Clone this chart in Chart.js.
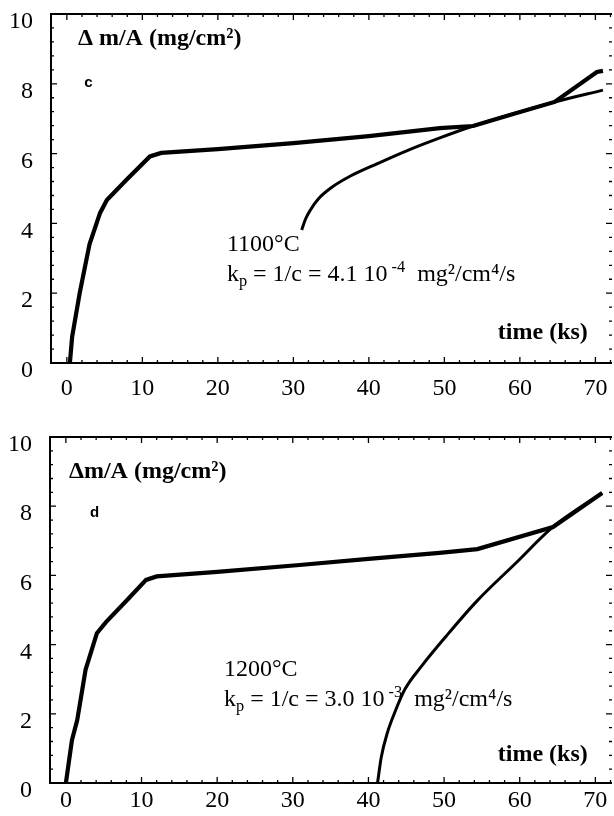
<!DOCTYPE html>
<html>
<head>
<meta charset="utf-8">
<script src="https://cdn.jsdelivr.net/npm/chart.js@4.4.1/dist/chart.umd.min.js"></script>
<style>
  html, body { margin: 0; padding: 0; background: #fff; overflow: hidden; }
  canvas { display: block; }
</style>
</head>
<body>
<canvas id="chartC" width="614" height="408"></canvas>
<canvas id="chartD" width="614" height="408"></canvas>
<script>
// tick labels
const xTicks = [0, 10, 20, 30, 40, 50, 60, 70];
const yTicks = [0, 2, 4, 6, 8, 10];

// panel c (1100°C): measured curve and parabolic fit
const timeC1 = [0.4, 0.7, 1.7, 3.0, 4.4, 5.3, 8.0, 11.0, 12.5, 20, 30, 40, 49.4, 53.8, 59, 64.6, 70.2, 71.0];
const massC1 = [0, 0.75, 2.0, 3.4, 4.3, 4.67, 5.27, 5.92, 6.02, 6.13, 6.3, 6.5, 6.73, 6.79, 7.13, 7.48, 8.34, 8.37];
const timeC2 = [31.1, 31.6, 32.3, 33.3, 35.0, 37.5, 41.2, 45, 49.4, 53.8, 59, 64.6, 71.0];
const massC2 = [3.81, 4.12, 4.40, 4.70, 5.02, 5.35, 5.72, 6.08, 6.45, 6.79, 7.13, 7.48, 7.82];

// panel d (1200°C)
const timeD1 = [0, 0.8, 1.5, 2.6, 4.1, 5.3, 8.1, 10.6, 12, 20, 30.9, 40, 49.4, 54.4, 64.4, 70.9];
const massD1 = [0, 1.24, 1.82, 3.27, 4.33, 4.65, 5.29, 5.87, 5.97, 6.1, 6.3, 6.48, 6.65, 6.76, 7.40, 8.38];
const timeD2 = [41.2, 41.7, 42.5, 43.5, 44.8, 47.0, 50.3, 54.3, 59.6, 64.4, 70.9];
const massD2 = [0, 0.75, 1.45, 2.05, 2.7, 3.37, 4.25, 5.25, 6.38, 7.40, 8.38];

const SERIF = "'Liberation Serif', 'Times New Roman', serif";
const SANS = "'Liberation Sans', Arial, sans-serif";

function toPoints(xs, ys) {
    return xs.map((v, i) => ({ x: v, y: ys[i] }));
}

// frame with inward ticks, like the original plot box
const framePlugin = {
    id: 'frame',
    afterDraw(chart) {
        const { ctx, chartArea: a, scales: { x, y } } = chart;
        ctx.save();
        ctx.strokeStyle = '#000';
        ctx.lineWidth = 2;
        ctx.beginPath();
        ctx.moveTo(a.right, a.top);
        ctx.lineTo(a.left, a.top);
        ctx.lineTo(a.left, a.bottom);
        ctx.lineTo(a.right, a.bottom);
        ctx.stroke();

        ctx.lineWidth = 1.3;
        ctx.beginPath();
        for (let v = 0; v <= 72; v += 2) {
            const px = x.getPixelForValue(v);
            const len = v % 10 === 0 ? 6 : 3;
            ctx.moveTo(px, a.bottom); ctx.lineTo(px, a.bottom - len);
            ctx.moveTo(px, a.top); ctx.lineTo(px, a.top + len);
        }
        for (let i = 0; i <= 25; i++) {
            const py = y.getPixelForValue(i * 0.4);
            const len = i % 5 === 0 ? 6 : 3;
            ctx.moveTo(a.left, py); ctx.lineTo(a.left + len, py);
            ctx.moveTo(a.right, py); ctx.lineTo(a.right - len, py);
        }
        ctx.stroke();
        ctx.restore();
    }
};

// text drawn inside the plot, placed in data coordinates
const notesPlugin = {
    id: 'notes',
    afterDraw(chart, args, opts) {
        const { ctx, scales: { x, y } } = chart;
        ctx.save();
        ctx.fillStyle = '#000';
        ctx.textBaseline = 'middle';
        ctx.textAlign = 'left';
        (opts.items || []).forEach(item => {
            const size = item.size || 24;
            const weight = item.bold ? 'bold ' : '';
            const family = item.family || SERIF;
            let total = 0;
            item.parts.forEach(p => {
                const s = p.sub || p.sup ? size * 0.68 : size;
                ctx.font = weight + s + 'px ' + family;
                total += ctx.measureText(p.t).width;
            });
            let px = x.getPixelForValue(item.x);
            const py = y.getPixelForValue(item.y);
            if (item.align === 'right') px -= total;
            item.parts.forEach(p => {
                const s = p.sub || p.sup ? size * 0.68 : size;
                ctx.font = weight + s + 'px ' + family;
                let dy = 0;
                if (p.sub) dy = size * 0.28;
                if (p.sup) dy = -size * 0.32;
                ctx.fillText(p.t, px, py + dy);
                px += ctx.measureText(p.t).width;
            });
        });
        ctx.restore();
    }
};

function makeChart(id, measured, fitted, box, notes) {
    return new Chart(document.getElementById(id), {
        type: 'scatter',
        data: {
            datasets: [
                {
                    data: measured,
                    showLine: true,
                    borderColor: '#000',
                    borderWidth: 4.2,
                    pointRadius: 0,
                    tension: 0
                },
                {
                    data: fitted,
                    showLine: true,
                    borderColor: '#000',
                    borderWidth: 3,
                    pointRadius: 0,
                    cubicInterpolationMode: 'monotone'
                }
            ]
        },
        options: {
            responsive: false,
            animation: false,
            layout: { padding: { top: box.top, right: 2, left: 0, bottom: 0 } },
            plugins: {
                legend: { display: false },
                tooltip: { enabled: false },
                notes: { items: notes }
            },
            scales: {
                x: {
                    type: 'linear',
                    min: -2.1,
                    max: 72.2,
                    afterBuildTicks: s => { s.ticks = xTicks.map(v => ({ value: v })); },
                    afterFit: s => {
                        s.height = box.xHeight;
                        s.paddingLeft = 0;
                        s.paddingRight = 0;
                    },
                    grid: { display: false, drawTicks: false },
                    border: { display: false },
                    ticks: {
                        color: '#000',
                        padding: box.xPad,
                        maxRotation: 0,
                        font: { family: SERIF, size: 24 }
                    }
                },
                y: {
                    type: 'linear',
                    min: 0,
                    max: 10,
                    afterBuildTicks: s => { s.ticks = yTicks.map(v => ({ value: v })); },
                    afterFit: s => {
                        s.width = box.left;
                        s.paddingTop = 0;
                        s.paddingBottom = 0;
                    },
                    grid: { display: false, drawTicks: false },
                    border: { display: false },
                    ticks: {
                        color: '#000',
                        padding: 18,
                        labelOffset: 8,
                        font: { family: SERIF, size: 24 }
                    }
                }
            }
        },
        plugins: [framePlugin, notesPlugin]
    });
}

makeChart('chartC', toPoints(timeC1, massC1), toPoints(timeC2, massC2),
    { top: 14, left: 51, xHeight: 45, xPad: 11 },
    [
        { x: 1.46, y: 9.28, bold: true, parts: [{ t: 'Δ m/A (mg/cm²)' }] },
        { x: 2.3, y: 8.02, bold: true, size: 15, family: SANS, parts: [{ t: 'c' }] },
        { x: 21.2, y: 3.38, parts: [{ t: '1100°C' }] },
        { x: 21.2, y: 2.52, parts: [{ t: 'k' }, { t: 'p', sub: true }, { t: ' = 1/c = 4.1 10' }, { t: ' -4', sup: true }, { t: '  mg²/cm⁴/s' }] },
        { x: 69.0, y: 0.86, bold: true, align: 'right', parts: [{ t: 'time (ks)' }] }
    ]);

makeChart('chartD', toPoints(timeD1, massD1), toPoints(timeD2, massD2),
    { top: 29, left: 50, xHeight: 33, xPad: 3 },
    [
        { x: 0.4, y: 8.99, bold: true, parts: [{ t: 'Δm/A (mg/cm²)' }] },
        { x: 3.2, y: 7.8, bold: true, size: 15, family: SANS, parts: [{ t: 'd' }] },
        { x: 20.9, y: 3.27, parts: [{ t: '1200°C' }] },
        { x: 20.9, y: 2.40, parts: [{ t: 'k' }, { t: 'p', sub: true }, { t: ' = 1/c = 3.0 10' }, { t: ' -3', sup: true }, { t: '  mg²/cm⁴/s' }] },
        { x: 69.0, y: 0.81, bold: true, align: 'right', parts: [{ t: 'time (ks)' }] }
    ]);
</script>
</body>
</html>
